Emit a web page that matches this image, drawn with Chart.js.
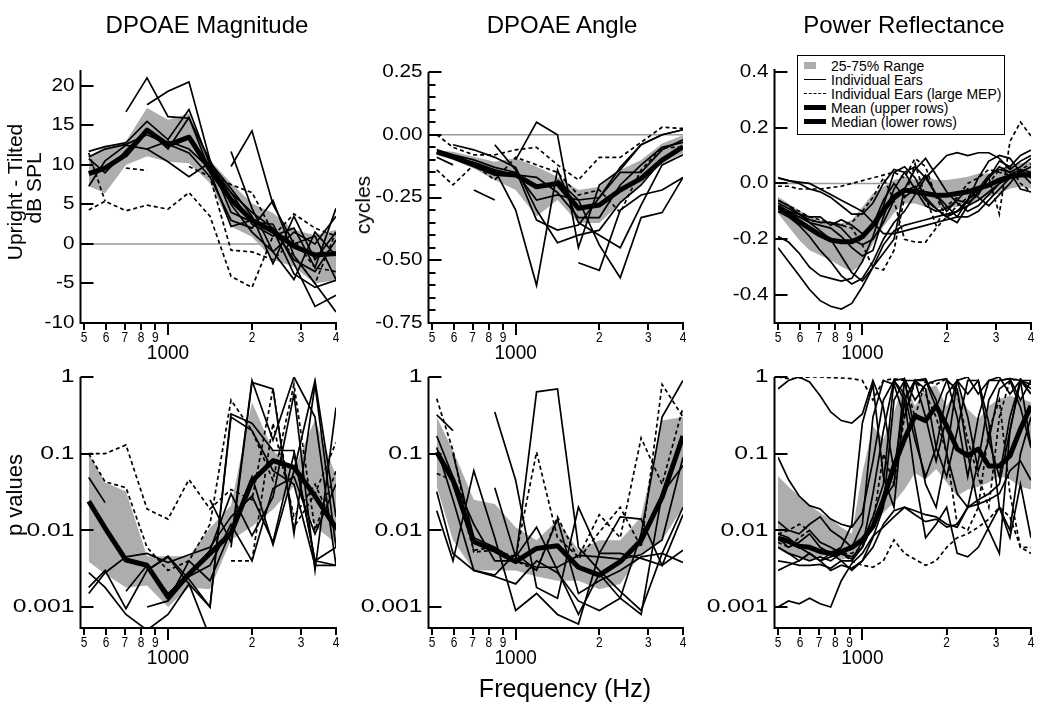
<!DOCTYPE html>
<html>
<head>
<meta charset="utf-8" />
<title>DPOAE Magnitude / Angle / Power Reflectance</title>
<script src="https://cdn.jsdelivr.net/npm/chart.js"></script>
<style>
  body { margin: 0; background: #fff; font-family: "Liberation Sans", Arial, sans-serif; }
  #wrap { position: relative; width: 1050px; height: 707px; overflow: hidden; }
  canvas { position: absolute; left: 0; top: 0; }
  .lbl { position: absolute; white-space: nowrap; color: #000; transform: translate(-50%, -50%); }
  .rot { transform: translate(-50%, -50%) rotate(-90deg); }
  #legend { position: absolute; left: 797px; top: 55px; width: 208px; height: 80px; box-sizing: border-box;
            border: 1.5px solid #000; background: #fff; font-size: 14px; }
  #legend .row { position: absolute; left: 0; height: 14px; line-height: 14px; white-space: nowrap; }
  #legend .sw { position: absolute; left: 6px; width: 22px; }
  #legend .txt { position: absolute; left: 33px; top: 0; }
</style>
</head>
<body>
<div id="wrap">
  <canvas id="c1" width="1050" height="707"></canvas>
  <canvas id="c2" width="1050" height="707"></canvas>
  <canvas id="c3" width="1050" height="707"></canvas>
  <canvas id="c4" width="1050" height="707"></canvas>
  <canvas id="c5" width="1050" height="707"></canvas>
  <canvas id="c6" width="1050" height="707"></canvas>

  <div class="lbl" style="left:207px;top:25px;font-size:24px">DPOAE Magnitude</div>
  <div class="lbl" style="left:562px;top:25px;font-size:24px">DPOAE Angle</div>
  <div class="lbl" style="left:904px;top:25px;font-size:24px">Power Reflectance</div>
  <div class="lbl rot" style="left:15px;top:192px;font-size:21px">Upright - Tilted</div>
  <div class="lbl rot" style="left:34px;top:188px;font-size:21px">dB SPL</div>
  <div class="lbl rot" style="left:363px;top:205px;font-size:21px">cycles</div>
  <div class="lbl rot" style="left:15px;top:495px;font-size:22px">p values</div>
  <div class="lbl" style="left:565px;top:688px;font-size:25px">Frequency (Hz)</div>

  <div id="legend">
    <div class="row" style="top:3px"><span class="sw" style="top:3px;width:12px;height:7px;background:#adadad"></span><span class="txt">25-75% Range</span></div>
    <div class="row" style="top:17px"><span class="sw" style="top:6px;border-top:1.5px solid #000"></span><span class="txt">Individual Ears</span></div>
    <div class="row" style="top:31px"><span class="sw" style="top:6px;border-top:1.5px dashed #000"></span><span class="txt">Individual Ears (large MEP)</span></div>
    <div class="row" style="top:45px"><span class="sw" style="top:4px;height:5px;background:#000"></span><span class="txt">Mean (upper rows)</span></div>
    <div class="row" style="top:59px"><span class="sw" style="top:4px;height:5px;background:#000"></span><span class="txt">Median (lower rows)</span></div>
  </div>
</div>
<script>
// frequency grids (Hz)
const freqDP = [520, 595, 707, 841, 1000, 1189, 1414, 1682, 2000, 2378, 2828, 3364, 4000];
const freqPR = [500, 545, 595, 648, 707, 771, 841, 917, 1000, 1091, 1189, 1297, 1414, 1542, 1682,
                1834, 2000, 2181, 2378, 2594, 2828, 3084, 3364, 3668, 4000];

// tick labels
const xTickVals = [500, 600, 700, 800, 900, 1000, 2000, 3000, 4000];
const xTickLabels = ['5', '6', '7', '8', '9', '', '2', '3', '4'];
const magTicks = [20, 15, 10, 5, 0, -5, -10];
const magTickLabels = ['20', '15', '10', '5', '0', '-5', '-10'];
const angTicks = [0.25, 0, -0.25, -0.5, -0.75];
const angTickLabels = ['0.25', '0.00', '-0.25', '-0.50', '-0.75'];
const angMinor = [0.2, 0.15, 0.1, 0.05, -0.05, -0.1, -0.15, -0.2, -0.3, -0.35, -0.4, -0.45, -0.55, -0.6, -0.65, -0.7];
const prTicks = [0.4, 0.2, 0, -0.2, -0.4];
const prTickLabels = ['0.4', '0.2', '0.0', '-0.2', '-0.4'];
const pTicks = [1, 0.1, 0.01, 0.001];
const pTickLabels = ['1', '0.1', '0.01', '0.001'];

// ---- DPOAE magnitude (dB)
const magQ25 = [7.3, 6.4, 10.0, 11.1, 10.4, 10.2, 7.7, 2.2, 0.9, -2.0, -2.9, -5.0, -4.6];
const magQ75 = [11.1, 12.3, 13.0, 17.2, 15.7, 16.5, 10.6, 7.7, 5.1, 3.9, 1.8, 1.1, 1.8];
const magMean = [8.9, 9.6, 11.3, 14.4, 12.5, 13.5, 9.4, 5.6, 3.0, 1.6, -0.3, -1.4, -1.2];
const magEars = [
  [11.7, 12.3, 12.8, 15.5, 13.2, 17.0, 10.0, 6.5, 2.5, 1.0, 2.0, -3.0, 4.5],
  [11.0, 12.0, 12.6, 13.8, 12.6, 11.5, 8.5, 3.0, 2.0, 5.5, -1.5, -5.0, -8.6],
  [null, null, 16.7, 21.0, 16.1, 15.9, 10.5, 4.0, 2.8, 2.5, -2.5, -7.9, -6.5],
  [null, null, null, 17.6, 19.3, 20.5, 10.6, 5.0, 1.5, -1.0, 1.5, 0.0, 3.5],
  [7.3, 10.5, 12.5, 12.0, 10.4, 8.5, 10.3, 7.0, 3.5, -2.5, 3.5, -2.0, 1.5],
  [10.8, 9.0, 11.8, 14.5, 12.0, 16.0, 9.2, 2.2, 3.0, 1.8, -3.8, -5.5, -4.6],
  [null, null, null, null, null, null, null, 9.8, 14.3, 5.0, 0.0, 1.0, -4.5],
  [null, null, null, null, null, null, null, 11.7, 4.5, -1.0, -4.5, 1.5, -1.5],
  [null, null, null, 12.0, 13.0, 12.0, 9.5, 6.5, 4.0, 2.0, -2.0, -3.5, 0.5]
];
const magMEP = [
  [4.3, 5.4, 4.2, 4.9, 4.4, 6.5, 3.5, -4.1, -5.5, 1.0, 3.8, 2.0, 1.0],
  [11.5, 5.4, null, null, null, 9.8, 8.5, -0.8, -1.0, -2.0, 0.5, -3.0, -3.5],
  [null, null, 9.6, 9.3, null, null, null, null, null, null, null, null, null],
  [null, null, null, null, null, null, 9.0, 7.5, 6.5, 1.5, -1.5, -5.0, 1.5]
];

// ---- DPOAE angle (cycles)
const angQ25 = [-0.081, -0.101, -0.134, -0.180, -0.220, -0.326, -0.260, -0.352, -0.352, -0.273, -0.194, -0.114, -0.074];
const angQ75 = [-0.061, -0.068, -0.088, -0.108, -0.094, -0.127, -0.167, -0.220, -0.207, -0.140, -0.101, -0.035, -0.002];
const angMean = [-0.068, -0.088, -0.120, -0.154, -0.160, -0.207, -0.194, -0.293, -0.280, -0.220, -0.174, -0.101, -0.048];
const angEars = [
  [-0.06, -0.08, -0.10, -0.13, -0.15, -0.26, -0.24, -0.26, -0.25, -0.15, -0.15, -0.06, -0.02],
  [null, -0.04, -0.06, -0.09, -0.13, -0.30, -0.43, -0.40, -0.38, -0.27, -0.20, -0.10, -0.05],
  [null, null, null, null, -0.10, 0.05, 0.00, -0.45, -0.20, -0.14, -0.04, 0.00, 0.02],
  [null, null, null, -0.14, -0.30, -0.60, -0.14, -0.35, -0.40, -0.45, -0.28, -0.12, -0.08],
  [null, null, null, null, null, null, -0.18, -0.26, -0.44, -0.57, -0.33, -0.31, -0.17],
  [null, null, null, null, null, null, null, -0.51, -0.54, -0.30, -0.24, -0.22, -0.17],
  [null, null, -0.22, -0.26, null, null, null, null, null, null, null, null, null],
  [-0.09, -0.12, null, null, null, null, null, null, null, null, null, null, null],
  [null, null, null, -0.04, -0.14, -0.34, -0.38, -0.36, -0.25, -0.13, -0.04, 0.00, 0.02],
  [-0.07, -0.09, -0.11, -0.14, -0.16, -0.17, -0.23, -0.33, -0.33, -0.20, -0.12, -0.05, -0.03]
];
const angMEP = [
  [0.00, -0.05, -0.08, -0.08, -0.06, -0.05, -0.12, -0.18, -0.09, -0.09, -0.03, 0.03, 0.025],
  [-0.14, -0.20, -0.12, -0.18, -0.09, -0.12, -0.15, -0.24, -0.22, -0.31, -0.14, -0.05, -0.05]
];

// ---- Power reflectance difference
const prQ25 = [-0.107, -0.155, -0.203, -0.239, -0.257, -0.275, -0.298, -0.316, -0.287, -0.215, -0.155, -0.107, -0.072,
               -0.072, -0.084, -0.090, -0.084, -0.084, -0.072, -0.060, -0.048, -0.036, -0.018, -0.012, -0.018];
const prQ75 = [-0.048, -0.072, -0.096, -0.119, -0.131, -0.137, -0.143, -0.131, -0.084, -0.036, -0.012, 0.012, 0.024,
               0.012, 0.024, 0.012, 0.012, 0.018, 0.024, 0.036, 0.036, 0.042, 0.066, 0.072, 0.078];
const prMean = [-0.084, -0.107, -0.137, -0.161, -0.185, -0.203, -0.209, -0.209, -0.191, -0.149, -0.096, -0.048, -0.024,
                -0.030, -0.036, -0.042, -0.042, -0.036, -0.030, -0.018, -0.006, 0.012, 0.024, 0.030, 0.030];
const prEars = [
  [-0.23, -0.28, -0.33, -0.38, -0.42, -0.44, -0.45, -0.43, -0.37, -0.30, -0.22, -0.17, -0.15, -0.14, -0.13, -0.12, -0.11, -0.10, -0.08, -0.06, -0.03, 0.00, 0.02, 0.04, 0.06],
  [0.02, 0.01, 0.00, -0.02, -0.03, -0.05, -0.08, -0.11, -0.11, -0.07, 0.00, 0.05, 0.04, -0.02, -0.08, -0.10, -0.09, -0.06, -0.07, -0.04, 0.02, 0.08, 0.06, 0.10, 0.12],
  [-0.19, -0.21, -0.25, -0.30, -0.33, -0.34, -0.35, -0.34, -0.28, -0.19, -0.08, 0.04, 0.06, 0.02, -0.05, -0.09, -0.12, -0.10, -0.06, -0.02, 0.03, 0.05, 0.04, 0.06, 0.09],
  [-0.06, -0.08, -0.11, -0.14, -0.17, -0.20, -0.26, -0.32, -0.35, -0.30, -0.25, -0.20, -0.02, 0.05, 0.09, 0.03, -0.03, -0.07, -0.10, -0.08, -0.04, 0.00, 0.03, 0.05, 0.02],
  [-0.08, -0.10, -0.12, -0.14, -0.15, -0.16, -0.19, -0.23, -0.26, -0.24, -0.12, -0.02, 0.04, 0.06, 0.02, -0.04, -0.08, -0.12, -0.06, 0.02, 0.08, 0.10, 0.09, 0.04, 0.00],
  [-0.10, -0.12, -0.15, -0.19, -0.24, -0.28, -0.33, -0.36, -0.34, -0.28, -0.20, -0.14, -0.10, -0.04, 0.02, 0.06, 0.10, 0.11, 0.10, 0.11, 0.11, 0.09, 0.05, 0.08, 0.10],
  [-0.09, -0.10, -0.11, -0.12, -0.12, -0.15, -0.13, -0.15, -0.18, -0.15, -0.06, 0.00, -0.05, -0.02, 0.03, -0.04, -0.10, -0.06, -0.02, -0.05, -0.08, -0.04, 0.00, 0.05, 0.04],
  [-0.07, -0.09, -0.11, -0.13, -0.14, -0.14, -0.16, -0.20, -0.22, -0.20, -0.14, -0.06, -0.03, -0.01, -0.06, -0.09, -0.12, -0.14, -0.08, -0.03, 0.02, 0.06, 0.04, -0.02, -0.03],
  [0.02, 0.01, 0.005, 0.00, -0.02, -0.04, -0.06, -0.08, -0.10, -0.14, -0.18, -0.18, -0.17, -0.16, -0.15, -0.14, -0.13, -0.12, -0.12, -0.10, -0.06, -0.02, 0.02, 0.03, 0.04]
];
const prMEP = [
  [-0.01, -0.01, -0.02, -0.02, -0.02, -0.015, -0.01, 0.00, 0.01, 0.02, 0.03, 0.04, 0.02, 0.09, 0.06, -0.05, -0.12, -0.10, -0.06, -0.03, 0.00, 0.05, 0.06, 0.00, -0.03],
  [-0.06, -0.08, -0.10, -0.12, -0.13, -0.14, -0.15, -0.16, -0.22, -0.30, -0.31, -0.24, -0.05, 0.07, -0.05, -0.15, -0.08, -0.05, 0.00, 0.02, 0.05, 0.04, 0.03, 0.05, 0.07],
  [-0.10, -0.11, -0.12, -0.13, -0.14, -0.14, -0.15, -0.14, -0.10, -0.05, 0.02, -0.06, -0.20, -0.21, -0.21, -0.16, -0.12, -0.08, -0.05, -0.02, 0.02, -0.11, 0.15, 0.22, 0.17]
];

// ---- p values, magnitude
const pmQ25 = [0.0039, 0.0027, 0.0018, 0.0019, 0.001, 0.0018, 0.0017, 0.0075, 0.0112, 0.0187, 0.038, 0.0112, 0.0068];
const pmQ75 = [0.1, 0.042, 0.032, 0.0046, 0.0046, 0.0046, 0.0107, 0.021, 0.47, 0.11, 0.063, 0.28, 0.051];
const pmMed = [0.024, 0.0107, 0.0041, 0.0035, 0.00135, 0.0027, 0.005, 0.0092, 0.044, 0.081, 0.066, 0.028, 0.0107];
const pmEars = [
  [0.049, 0.023, null, null, null, null, null, null, null, null, null, null, null],
  [0.0018, 0.003, 0.00095, 0.003, 0.0046, 0.0023, 0.001, 0.33, 0.25, 0.11, 0.11, 0.004, 0.0035],
  [0.0028, 0.0018, 0.0008, 0.0005, 0.0008, 0.002, 0.0004, null, null, null, null, null, null],
  [null, null, null, null, null, null, null, 0.006, 0.85, 0.7, 0.009, 0.8, 0.006],
  [null, null, null, null, null, null, 0.025, 0.007, 0.9, 0.15, 1.0, 0.3, 0.0035],
  [0.0015, 0.0028, 0.0045, 0.005, 0.0038, 0.0048, 0.006, 0.015, 0.028, 0.007, 0.1, 0.004, 0.006],
  [null, null, 0.0016, 0.0035, 0.0015, 0.0025, 0.0035, 0.012, 0.004, 0.035, 0.05, 0.009, 0.04],
  [null, null, null, 0.001, 0.0012, 0.0025, 0.0055, 0.03, 0.0085, 0.027, 0.6, 0.003, 0.4],
  [null, null, null, null, 0.0012, 0.004, 0.0022, 0.01, 0.05, 0.0065, 0.06, 0.9, 0.015],
  [null, null, null, 0.003, 0.0045, 0.002, 0.001, 0.3, 0.2, 0.06, 0.04, 0.0035, 0.0035]
];
const pmMEP = [
  [0.1, 0.1, 0.13, 0.019, 0.014, 0.046, 0.019, 0.034, 0.025, 0.7, 0.011, 0.03, 0.14],
  [0.1, 0.043, 0.036, 0.006, 0.003, 0.004, 0.012, 0.5, 0.2, 0.045, 0.8, 0.01, 0.06],
  [null, null, null, null, null, null, null, 0.004, 0.004, 0.25, 0.015, 0.04, 0.01]
];

// ---- p values, angle
const paQ25 = [0.037, 0.0074, 0.003, 0.003, 0.003, 0.0025, 0.0022, 0.0022, 0.0017, 0.002, 0.005, 0.0074, 0.02];
const paQ75 = [0.3, 0.11, 0.025, 0.022, 0.011, 0.0074, 0.0135, 0.0055, 0.0074, 0.0074, 0.015, 0.27, 0.3];
const paMed = [0.105, 0.045, 0.0071, 0.0055, 0.0039, 0.0058, 0.0063, 0.0033, 0.0026, 0.0039, 0.0074, 0.027, 0.17];
const paEars = [
  [0.32, 0.2, null, null, null, null, null, null, null, null, null, null, null],
  [0.17, 0.05, 0.012, 0.004, 0.004, 0.64, 0.7, 0.006, 0.003, 0.0016, 0.0009, 0.005, 0.02],
  [0.032, 0.005, 0.003, 0.0025, 0.002, 0.004, 0.0028, 0.0012, 0.0009, 0.0013, 0.009, 0.3, 0.9],
  [0.018, 0.004, 0.06, 0.008, 0.0009, 0.0015, 0.0008, 0.0006, 0.005, 0.005, 0.0043, 0.0035, 0.0055],
  [null, null, null, 0.35, 0.045, 0.0018, 0.0013, 0.02, 0.005, 0.015, 0.014, 0.0035, 0.016],
  [null, null, null, 0.036, 0.0045, 0.011, 0.003, 0.0008, 0.0027, 0.0013, 0.0008, 0.03, 0.07],
  [0.12, 0.025, 0.003, 0.0026, 0.005, 0.003, 0.014, 0.0015, 0.0022, 0.003, 0.0045, 0.005, 0.0038],
  [null, 0.1, 0.008, 0.006, 0.004, 0.0033, 0.0033, 0.0047, 0.0045, 0.0042, 0.0048, 0.0075, 0.09]
];
const paMEP = [
  [0.52, 0.11, 0.0052, 0.0055, 0.0045, 0.105, 0.008, 0.0045, 0.016, 0.008, 0.16, 0.04, 0.4],
  [0.055, 0.045, 0.0055, 0.006, 0.004, 0.003, 0.015, 0.0042, 0.0095, 0.02, 0.006, 0.8, 0.3]
];

// ---- p values, power reflectance
const ppQ25 = [0.0061, 0.005, 0.0046, 0.0041, 0.0046, 0.0046, 0.0041, 0.0046, 0.0068, 0.011, 0.017, 0.023, 0.034,
               0.056, 0.046, 0.063, 0.042, 0.028, 0.034, 0.037, 0.042, 0.051, 0.046, 0.037, 0.034];
const ppQ75 = [0.051, 0.037, 0.028, 0.021, 0.017, 0.014, 0.011, 0.009, 0.056, 0.23, 0.155, 0.35, 0.86,
               0.42, 0.7, 0.78, 0.42, 0.7, 0.38, 0.28, 0.42, 0.52, 0.57, 0.52, 0.47];
const ppMed = [0.0079, 0.0072, 0.0062, 0.006, 0.0053, 0.005, 0.0053, 0.006, 0.0075, 0.0112, 0.025, 0.069, 0.155,
               0.31, 0.27, 0.42, 0.23, 0.115, 0.094, 0.115, 0.069, 0.069, 0.094, 0.21, 0.42];
const ppEars = [
  [0.7, 0.9, 1.0, 0.86, 0.57, 0.35, 0.27, 0.25, 0.33, 0.9, 0.4, 0.06, 0.5, 0.9, 0.3, 0.08, 0.3, 0.9, 1.0, 0.6, 0.9, 1.0, 0.6, 0.9, 0.7],
  [0.001, 0.0012, 0.0011, 0.0013, 0.0011, 0.001, 0.0022, 0.0037, 0.005, 0.0084, 0.011, 0.015, 0.02, 0.018, 0.016, 0.015, 0.012, 0.011, 0.02, 0.025, 0.03, 0.04, 0.2, 0.9, 0.6],
  [0.09, 0.046, 0.028, 0.021, 0.019, 0.014, 0.012, 0.011, 0.017, 0.08, 0.5, 0.9, 0.6, 0.15, 0.05, 0.12, 0.6, 0.9, 0.3, 0.06, 0.15, 0.7, 0.9, 0.4, 0.12],
  [0.013, 0.01, 0.009, 0.012, 0.015, 0.01, 0.008, 0.006, 0.012, 0.3, 0.9, 0.8, 0.3, 0.9, 0.95, 0.5, 0.1, 0.03, 0.02, 0.08, 0.5, 0.9, 0.95, 0.5, 0.9],
  [0.006, 0.005, 0.0045, 0.004, 0.0045, 0.004, 0.005, 0.0045, 0.006, 0.03, 0.2, 0.9, 0.5, 0.05, 0.008, 0.012, 0.02, 0.005, 0.0045, 0.006, 0.011, 0.02, 0.008, 0.04, 0.008],
  [0.004, 0.0038, 0.0035, 0.0035, 0.0036, 0.0032, 0.004, 0.004, 0.006, 0.012, 0.025, 0.04, 0.9, 0.2, 0.04, 0.02, 0.1, 0.9, 0.6, 0.9, 0.25, 0.02, 0.01, 0.1, 0.3],
  [0.003, 0.0035, 0.004, 0.005, 0.004, 0.003, 0.0035, 0.0032, 0.004, 0.008, 0.02, 0.5, 0.9, 0.9, 0.7, 0.12, 0.05, 0.2, 0.9, 0.9, 0.15, 0.05, 0.3, 0.9, 0.8],
  [0.008, 0.006, 0.007, 0.009, 0.006, 0.005, 0.004, 0.003, 0.004, 0.006, 0.012, 0.018, 0.02, 0.016, 0.013, 0.014, 0.011, 0.012, 0.02, 0.022, 0.025, 0.03, 0.06, 0.08, 0.045],
  [0.009, 0.008, 0.006, 0.005, 0.004, 0.005, 0.006, 0.012, 0.25, 0.8, 0.05, 0.02, 0.5, 0.9, 0.9, 0.4, 0.9, 0.7, 0.1, 0.02, 0.01, 0.005, 0.2, 0.9, 0.9],
  [0.006, 0.005, 0.004, 0.005, 0.004, 0.0045, 0.005, 0.0042, 0.007, 0.015, 0.04, 0.9, 0.95, 0.5, 0.8, 0.9, 0.95, 0.3, 0.05, 0.3, 0.9, 0.9, 0.95, 0.9, 0.12]
];
const ppMEP = [
  [1.0, 0.95, 0.97, 1.0, 1.0, 0.98, 0.97, 0.95, 0.9, 0.5, 0.9, 0.95, 0.9, 0.3, 0.9, 0.8, 0.95, 0.6, 0.15, 0.05, 0.02, 0.3, 0.9, 0.95, 0.6],
  [0.007, 0.006, 0.008, 0.01, 0.007, 0.006, 0.005, 0.004, 0.0035, 0.0033, 0.004, 0.0075, 0.005, 0.0042, 0.0035, 0.004, 0.006, 0.008, 0.009, 0.011, 0.014, 0.02, 0.015, 0.006, 0.005],
  [0.009, 0.01, 0.012, 0.01, 0.007, 0.006, 0.005, 0.005, 0.006, 0.012, 0.1, 0.04, 0.3, 0.9, 0.6, 0.3, 0.1, 0.012, 0.01, 0.02, 0.2, 0.5, 0.03, 0.006, 0.006]
];

const BAND = '#adadad';
const FONT = '"Liberation Sans", Arial, sans-serif';

function pts(fr, vals) { return fr.map((f, i) => ({ x: f, y: vals[i] })); }

function buildSets(fr, lo, hi, center, ears, mep, zero) {
  const sets = [];
  if (zero) sets.push({ data: [{ x: 500, y: 0 }, { x: 4000, y: 0 }], borderColor: '#999', borderWidth: 1.5, order: 20 });
  sets.push({ data: pts(fr, lo), borderColor: 'rgba(0,0,0,0)', borderWidth: 0, fill: false, order: 10 });
  sets.push({ data: pts(fr, hi), borderColor: 'rgba(0,0,0,0)', borderWidth: 0, fill: '-1', backgroundColor: BAND, order: 10 });
  ears.forEach(v => sets.push({ data: pts(fr, v), borderColor: '#000', borderWidth: 1.7, fill: false, order: 5 }));
  mep.forEach(v => sets.push({ data: pts(fr, v), borderColor: '#000', borderWidth: 1.7, borderDash: [4, 3], fill: false, order: 5 }));
  sets.push({ data: pts(fr, center), borderColor: '#000', borderWidth: 5, borderJoinStyle: 'round', fill: false, order: 1 });
  return sets;
}

function txt(ctx, s, x, y, size, align, sx) {
  ctx.save();
  ctx.font = size + 'px ' + FONT;
  ctx.textBaseline = 'middle';
  ctx.textAlign = align;
  ctx.translate(x, y);
  ctx.scale(sx, 1);
  ctx.fillText(s, 0, 0);
  ctx.restore();
}

// Igor style axes: offset y axis with inward ticks, x axis with hanging ticks
function axesPlugin(cfg) {
  return {
    id: 'igorAxes',
    afterDatasetsDraw(chart) {
      const ctx = chart.ctx, a = chart.chartArea;
      const xs = chart.scales.x, ys = chart.scales.y;
      const ax = a.left - 3.5, by = a.bottom;
      ctx.save();
      ctx.strokeStyle = '#000';
      ctx.fillStyle = '#000';
      ctx.lineWidth = 2;
      ctx.beginPath();
      ctx.moveTo(ax, a.top); ctx.lineTo(ax, by);
      ctx.moveTo(ax - 1, by); ctx.lineTo(a.right + 1, by);
      xTickVals.forEach(v => {
        const px = Math.round(xs.getPixelForValue(v));
        ctx.moveTo(px, by); ctx.lineTo(px, by + (v === 1000 ? 12 : 7));
      });
      cfg.yMajor.forEach(v => {
        const py = Math.round(ys.getPixelForValue(v));
        ctx.moveTo(ax, py); ctx.lineTo(ax + 13, py);
      });
      (cfg.yMinor || []).forEach(v => {
        const py = Math.round(ys.getPixelForValue(v));
        ctx.moveTo(ax, py); ctx.lineTo(ax + 7, py);
      });
      ctx.stroke();
      xTickVals.forEach((v, i) => {
        if (xTickLabels[i]) txt(ctx, xTickLabels[i], xs.getPixelForValue(v), by + 15, 14, 'center', 0.85);
      });
      txt(ctx, '1000', xs.getPixelForValue(1000), by + 30, 20, 'center', 0.95);
      cfg.yMajor.forEach((v, i) => {
        txt(ctx, cfg.yLabels[i], ax - 6, ys.getPixelForValue(v), cfg.ySize, 'right', cfg.ySx);
      });
      ctx.restore();
    }
  };
}

function panel(id, box, yScale, datasets, axCfg) {
  return new Chart(document.getElementById(id), {
    type: 'line',
    data: { datasets },
    options: {
      responsive: false,
      animation: false,
      events: [],
      layout: { padding: { left: box[0], top: box[1], right: 1050 - box[2], bottom: 707 - box[3] } },
      elements: { point: { radius: 0 }, line: { tension: 0 } },
      plugins: { legend: { display: false }, tooltip: { enabled: false } },
      scales: {
        x: { type: 'logarithmic', min: 500, max: 4000, display: false },
        y: Object.assign({ display: false }, yScale)
      }
    },
    plugins: [axesPlugin(axCfg)]
  });
}

const topLbl = { ySize: 18, ySx: 1.15 };
const botLbl = { ySize: 19, ySx: 1.3 };

panel('c1', [84, 70, 336, 323], { type: 'linear', min: -10, max: 22 },
  buildSets(freqDP, magQ25, magQ75, magMean, magEars, magMEP, true),
  Object.assign({ yMajor: magTicks, yLabels: magTickLabels }, topLbl));
panel('c2', [432, 72, 683, 323], { type: 'linear', min: -0.75, max: 0.25 },
  buildSets(freqDP, angQ25, angQ75, angMean, angEars, angMEP, true),
  Object.assign({ yMajor: angTicks, yLabels: angTickLabels, yMinor: angMinor }, topLbl));
panel('c3', [778, 69, 1031, 323], { type: 'linear', min: -0.5, max: 0.41 },
  buildSets(freqPR, prQ25, prQ75, prMean, prEars, prMEP, true),
  Object.assign({ yMajor: prTicks, yLabels: prTickLabels }, topLbl));
panel('c4', [84, 377, 336, 628], { type: 'logarithmic', min: 0.000532, max: 1 },
  buildSets(freqDP, pmQ25, pmQ75, pmMed, pmEars, pmMEP, false),
  Object.assign({ yMajor: pTicks, yLabels: pTickLabels }, botLbl));
panel('c5', [432, 377, 683, 628], { type: 'logarithmic', min: 0.000532, max: 1 },
  buildSets(freqDP, paQ25, paQ75, paMed, paEars, paMEP, false),
  Object.assign({ yMajor: pTicks, yLabels: pTickLabels }, botLbl));
panel('c6', [778, 377, 1031, 628], { type: 'logarithmic', min: 0.000532, max: 1 },
  buildSets(freqPR, ppQ25, ppQ75, ppMed, ppEars, ppMEP, false),
  Object.assign({ yMajor: pTicks, yLabels: pTickLabels }, botLbl));
</script>
</body>
</html>
